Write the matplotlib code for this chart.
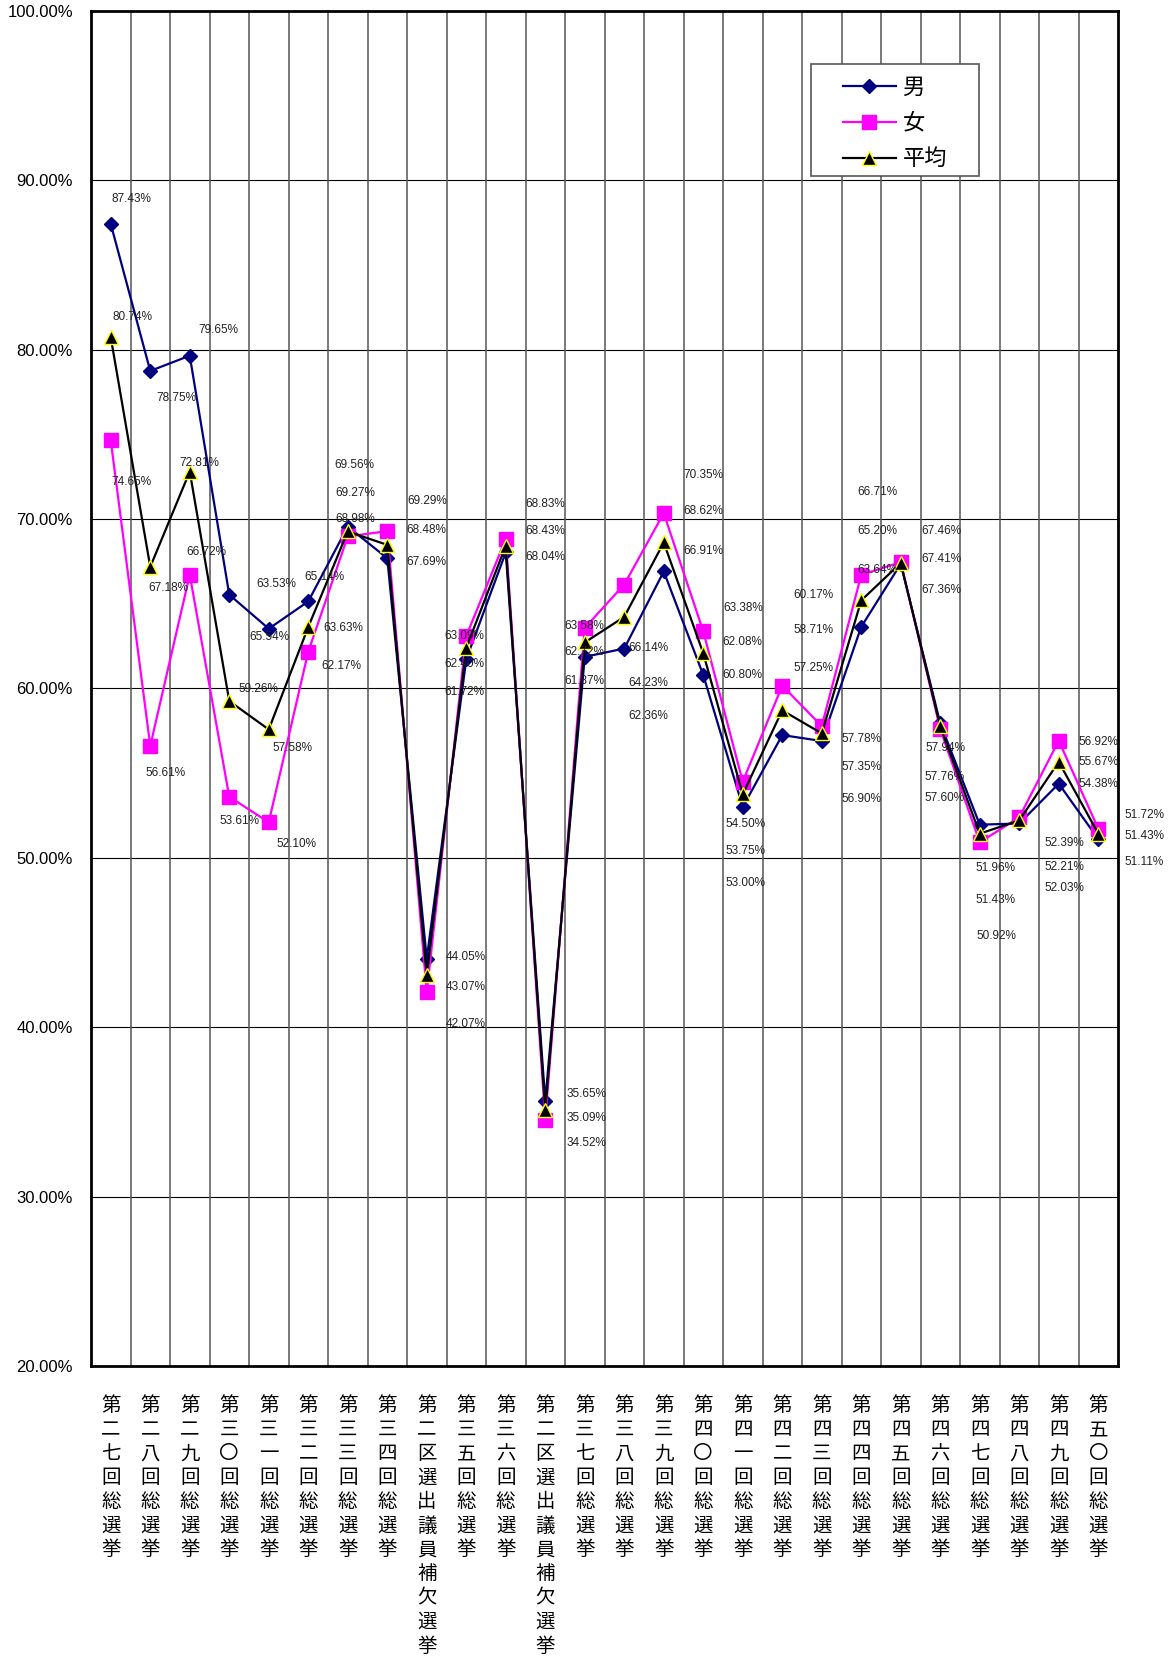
import matplotlib
matplotlib.use("Agg")
import matplotlib.pyplot as plt
from matplotlib.lines import Line2D
from matplotlib.patches import Rectangle
from matplotlib.ticker import FuncFormatter

plt.rcParams['font.family'] = ['Liberation Sans', 'Noto Sans CJK JP', 'DejaVu Sans']

# categories (elections)
categories = ['第二七回総選挙', '第二八回総選挙', '第二九回総選挙', '第三〇回総選挙',
              '第三一回総選挙', '第三二回総選挙', '第三三回総選挙', '第三四回総選挙',
              '第二区選出議員補欠選挙', '第三五回総選挙', '第三六回総選挙',
              '第二区選出議員補欠選挙', '第三七回総選挙', '第三八回総選挙',
              '第三九回総選挙', '第四〇回総選挙', '第四一回総選挙', '第四二回総選挙',
              '第四三回総選挙', '第四四回総選挙', '第四五回総選挙', '第四六回総選挙',
              '第四七回総選挙', '第四八回総選挙', '第四九回総選挙', '第五〇回総選挙']

# turnout (%)
male = [87.43, 78.75, 79.65, 65.54, 63.53, 65.14, 69.56, 67.69, 44.05, 61.72, 68.04,
        35.65, 61.87, 62.36, 66.91, 60.80, 53.00, 57.25, 56.90, 63.64, 67.36, 57.94,
        51.96, 52.03, 54.38, 51.11]
female = [74.65, 56.61, 66.72, 53.61, 52.10, 62.17, 68.98, 69.29, 42.07, 63.09, 68.83,
          34.52, 63.58, 66.14, 70.35, 63.38, 54.50, 60.17, 57.78, 66.71, 67.46, 57.60,
          50.92, 52.39, 56.92, 51.72]
average = [80.74, 67.18, 72.81, 59.26, 57.58, 63.63, 69.27, 68.48, 43.07, 62.40, 68.43,
           35.09, 62.72, 64.23, 68.62, 62.08, 53.75, 58.71, 57.35, 65.20, 67.41, 57.76,
           51.43, 52.21, 55.67, 51.43]

# data label offsets (x in categories, y in %)
male_dx = [0.53, 0.67, 0.72, 1.03, 0.2, 0.42, 0.18, 1.0, 0.99, -0.05, 1.0, 1.05, 0.0,
           0.61, 1.0, 1.0, 0.06, 0.8, 1.01, 0.41, 1.04, 0.12, 0.41, 1.14, 1.0, 1.17]
male_dy = [1.46, -1.61, 1.52, -2.47, 2.64, 1.43, 3.64, -0.2, 0.12, -1.94, -0.25, 0.4, -1.4,
           -3.98, 1.22, 0.0, -4.5, 3.95, -3.43, 3.36, -1.54, -1.46, -2.57, -3.82, 0.0, -1.33]
female_dx = [0.53, 0.39, 0.42, 0.25, 0.7, 0.85, 0.18, 1.0, 0.99, -0.05, 1.0, 1.05, 0.0,
             0.61, 1.0, 1.0, 0.06, 0.8, 1.01, 0.41, 1.04, 0.12, 0.41, 1.14, 1.0, 1.17]
female_dy = [-2.44, -1.61, 1.33, -1.41, -1.29, -0.84, 1.01, 1.79, -1.87, 0.0, 2.05, -1.36, 0.12,
             -3.76, 2.26, 1.36, -2.49, 5.35, -0.77, 4.92, 1.86, -4.07, -5.56, -1.52, -0.05, 0.82]
avg_dx = [0.55, 0.46, 0.24, 0.74, 0.6, 0.89, 0.18, 1.0, 0.99, -0.05, 1.0, 1.05, 0.0,
          0.61, 1.0, 1.0, 0.06, 0.8, 1.01, 0.41, 1.04, 0.12, 0.41, 1.14, 1.0, 1.17]
avg_dy = [1.22, -1.26, 0.49, 0.7, -1.1, -0.07, 2.3, 0.89, -0.67, -0.94, 0.89, -0.42, -0.58,
          -3.9, 1.87, 0.69, -3.37, 4.75, -1.96, 4.12, 0.22, -2.99, -3.91, -2.72, 0.0, -0.13]

W, H = 1168, 1660
fig = plt.figure(figsize=(W / 100, H / 100), dpi=100)
ax = fig.add_axes([91 / W, 1 - 1366 / H, (1118 - 91) / W, (1366 - 11) / H])

x = list(range(len(categories)))

# grid
for yv in range(30, 100, 10):
    ax.axhline(yv, color='black', lw=0.8, zorder=1)
for b in range(1, len(categories)):
    ax.axvline(b - 0.5, color='#555555', lw=1.1, zorder=1)

ax.plot(x, male, color='#000080', lw=1.6, marker='D', ms=7.2,
        mfc='#000080', mec='#000080', zorder=3)
ax.plot(x, female, color='#FF00FF', lw=1.6, marker='s', ms=10,
        mfc='#FF00FF', mec='#FF00FF', zorder=3)
ax.plot(x, average, color='black', lw=1.6, marker='^', ms=9.5,
        mfc='black', mec='#FFFF00', mew=1, zorder=3)

# data labels
for vals, dxs, dys in [(male, male_dx, male_dy), (female, female_dx, female_dy),
                       (average, avg_dx, avg_dy)]:
    for i, v in enumerate(vals):
        ax.text(i + dxs[i], v + dys[i], f'{v:.2f}%', fontsize=8.5, color='#222222',
                ha='center', va='center', zorder=5, clip_on=False)

ax.set_xlim(-0.5, len(categories) - 0.5)
ax.set_ylim(20, 100)
ax.set_yticks(range(20, 101, 10))
ax.yaxis.set_major_formatter(FuncFormatter(lambda v, p: f'{v:.2f}%'))
ax.set_xticks(x)
ax.set_xticklabels(['\n'.join(c) for c in categories], fontsize=14,
                   family=['Noto Sans CJK JP'], linespacing=1.19, va='top')
ax.tick_params(axis='x', length=0, pad=21)
ax.tick_params(axis='y', length=0, pad=13, labelsize=12)
for s in ax.spines.values():
    s.set_linewidth(2)
    s.set_color('black')

# legend with box
fig.add_artist(Rectangle((811 / W, 1 - 176 / H), (979 - 811) / W, (176 - 64) / H,
                         transform=fig.transFigure, facecolor='white',
                         edgecolor='#555555', lw=1.2, zorder=10))
handles = [Line2D([], [], color='#000080', lw=1.6, marker='D', ms=7.2, mec='#000080'),
           Line2D([], [], color='#FF00FF', lw=1.6, marker='s', ms=10, mec='#FF00FF'),
           Line2D([], [], color='black', lw=1.6, marker='^', ms=9.5, mfc='black',
                  mec='#FFFF00', mew=1)]
leg = fig.legend(handles, ['男', '女', '平均'], loc='upper left',
                 bbox_to_anchor=(827 / W, 1 - 60 / H), frameon=False,
                 prop={'family': ['Noto Sans CJK JP'], 'size': 16},
                 handlelength=2.4, handletextpad=0.3, labelspacing=0.58,
                 borderpad=0.2)
leg.set_zorder(11)

fig.savefig('out.png', dpi=100)
